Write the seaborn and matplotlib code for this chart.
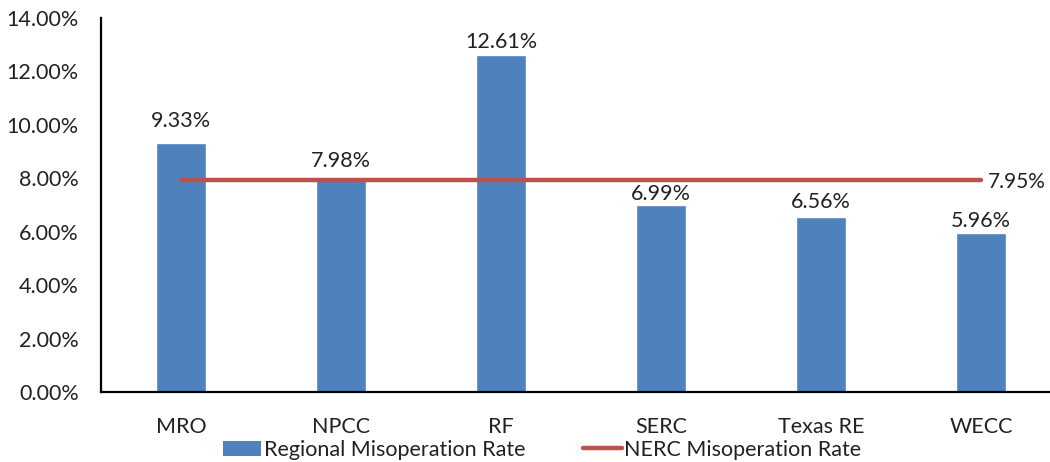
import matplotlib
matplotlib.use("Agg")
import matplotlib.pyplot as plt
import seaborn as sns
import pandas as pd
from matplotlib.patches import Patch
from matplotlib.lines import Line2D
from matplotlib.ticker import FuncFormatter

categories = ["MRO", "NPCC", "RF", "SERC", "Texas RE", "WECC"]
regional_rate = [9.33, 7.98, 12.61, 6.99, 6.56, 5.96]
nerc_rate = [7.95, 7.95, 7.95, 7.95, 7.95, 7.95]
y_ticks = [0, 2, 4, 6, 8, 10, 12, 14]

# label gap above each bar, in pixels (layout only)
label_gap_px = [16, 12, 7, 5, 9, 6]

sns.set_theme(style="white")
plt.rcParams['font.family'] = ['Lato', 'DejaVu Sans']

df = pd.DataFrame({"Region": categories, "Regional": regional_rate, "NERC": nerc_rate})

fig = plt.figure(figsize=(10.5, 4.62), dpi=100)
ax = fig.add_axes([101/1050, 1 - 392/462, 960/1050, (392-18)/462])

bar_color = "#4F81BD"
line_color = "#C0504D"
fs = 15.5

sns.barplot(data=df, x="Region", y="Regional", color=bar_color, width=0.31,
            saturation=1, ax=ax)
sns.lineplot(data=df, x="Region", y="NERC", color=line_color, linewidth=3.2,
             ax=ax, sort=False)

for i, v in enumerate(regional_rate):
    ax.annotate(f"{v:.2f}%", xy=(i, v), xytext=(0, label_gap_px[i] * 0.72),
                textcoords="offset points", ha="center", va="baseline",
                fontsize=fs, color="#222222")
ax.annotate(f"{nerc_rate[-1]:.2f}%", xy=(len(categories) - 1, nerc_rate[-1]),
            xytext=(5, -2), textcoords="offset points",
            ha="left", va="center", fontsize=fs - 0.5, color="#222222")

ax.set_ylim(0, 14)
ax.set_xlim(-0.5, len(categories) - 0.5)
ax.set_yticks(y_ticks)
ax.yaxis.set_major_formatter(FuncFormatter(lambda v, p: f"{v:.2f}%"))
ax.tick_params(axis="y", labelsize=fs, length=0, pad=16, colors="#222222")
ax.tick_params(axis="x", labelsize=fs, length=0, pad=18, colors="#222222")
ax.set_xlabel("")
ax.set_ylabel("")
for s in ["top", "right"]:
    ax.spines[s].set_visible(False)
for s in ["left", "bottom"]:
    ax.spines[s].set_color("black")
    ax.spines[s].set_linewidth(1.6)

handles = [Patch(facecolor=bar_color, edgecolor="none"),
           Line2D([0], [0], color=line_color, linewidth=3.2)]
fig.legend(handles, ["Regional Misoperation Rate", "NERC Misoperation Rate"],
           loc="center", bbox_to_anchor=(542/1050, 1 - 450/462), ncol=2, frameon=False,
           fontsize=fs, handlelength=1.8, handletextpad=0.1, columnspacing=2.7,
           labelcolor="#222222")

fig.savefig("out.png", dpi=100)
